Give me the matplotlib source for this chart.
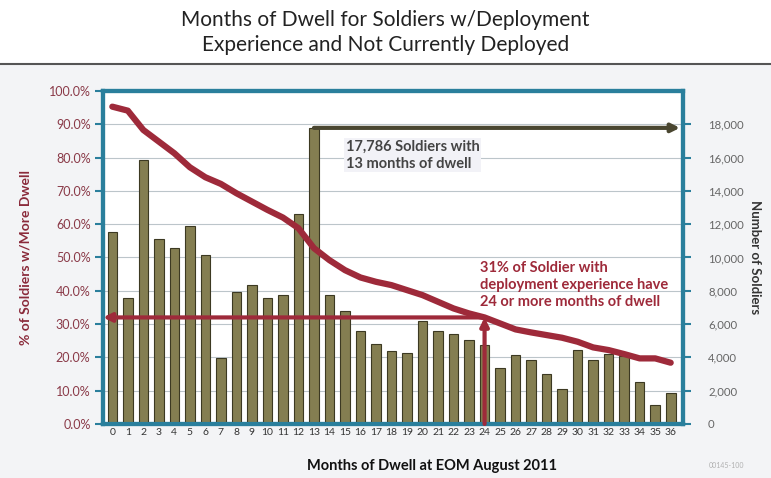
import matplotlib
matplotlib.use('Agg')
import matplotlib.pyplot as plt
from matplotlib.ticker import FuncFormatter

plt.rcParams['font.family'] = ['Lato', 'DejaVu Sans']

months = list(range(37))
soldiers = [11550, 7550, 15850, 11110, 10550, 11910, 10170, 3980, 7950, 8330,
            7550, 7770, 12590, 17786, 7770, 6770, 5570, 4800, 4400, 4280,
            6190, 5590, 5390, 5060, 4730, 3350, 4130, 3860, 2980, 2080,
            4430, 3840, 4190, 4080, 2540, 1140, 1840]
pct_more = [95.3, 94.1, 88.3, 84.8, 81.3, 77.1, 74.1, 72.1, 69.3, 66.8,
            64.3, 62.0, 58.8, 52.8, 49.2, 46.2, 44.0, 42.7, 41.7, 40.2,
            38.7, 36.7, 34.7, 33.2, 32.0, 30.2, 28.4, 27.5, 26.7, 25.9,
            24.7, 23.0, 22.2, 21.0, 19.7, 19.7, 18.4]

teal = '#2a7f9c'
red = '#9e2a3a'
olive = '#847e51'

fig = plt.figure(figsize=(7.71, 4.78), dpi=100)
fig.patch.set_facecolor('#f3f4f6')
# white header band with rule line
fig.patches.append(plt.Rectangle((0, 0.868), 1, 0.132, transform=fig.transFigure,
                                 facecolor='white', edgecolor='none', zorder=0))
fig.add_artist(plt.Line2D([0, 1], [0.866, 0.866], transform=fig.transFigure,
                          color='#555555', lw=1.5))
fig.text(0.5, 0.932, "Months of Dwell for Soldiers w/Deployment\nExperience and Not Currently Deployed",
         ha='center', va='center', fontsize=15, color='#222222', linespacing=1.3)

ax = fig.add_axes([0.1336, 0.113, 0.7524, 0.6966])
ax2 = ax.twinx()

# percent axis (left)
ax.set_ylim(0, 100)
ax.set_yticks(range(0, 101, 10))
ax.yaxis.set_major_formatter(FuncFormatter(lambda v, p: f"{v:.1f}%"))
ax.grid(axis='y', color='#bcc5ca', lw=0.8)
ax.set_axisbelow(True)
ax.set_xlim(-0.6, 36.8)
ax.set_xticks(months)
ax.set_xticklabels([str(m) for m in months], fontsize=7.5, color='#333333')
ax.tick_params(axis='x', length=0, pad=3)
ax.tick_params(axis='y', colors=teal, labelcolor='#8a3a48', labelsize=9, width=1.5,
               length=6, pad=3)
ax.set_ylabel("% of Soldiers w/More Dwell", color='#8a2a3a', fontsize=10,
              fontweight='bold', labelpad=12)
ax.set_xlabel("Months of Dwell at EOM August 2011", fontsize=10.5, fontweight='bold',
              color='#111111')
ax.xaxis.set_label_coords(0.567, -0.105)

# count axis (right)
ax2.set_ylim(0, 20000)
ax2.set_yticks(range(0, 18001, 2000))
ax2.yaxis.set_major_formatter(FuncFormatter(lambda v, p: f"{int(v):,}"))
ax2.tick_params(axis='y', colors=teal, labelcolor='#666666', labelsize=8.2, width=1.5,
                length=6, pad=12)
ax2.set_ylabel("Number of Soldiers", rotation=270, color='#333333', fontsize=9.5,
               fontweight='bold', labelpad=12)

for a in (ax, ax2):
    for s in a.spines.values():
        s.set_color(teal)
        s.set_linewidth(3)

ax2.bar(months, soldiers, width=0.62, color=olive, edgecolor='#3c3922', lw=0.8, zorder=2)

# percent curve drawn on ax2 scale so it sits above bars
scale = 20000 / 100
ax2.plot(months, [p * scale for p in pct_more], color=red, lw=4.5, zorder=4,
         solid_capstyle='round')

# 24-month markers
lvl = pct_more[24] * scale
ax2.annotate('', xy=(-0.6, lvl), xytext=(24, lvl),
             arrowprops=dict(arrowstyle='-|>', color=red, lw=3, mutation_scale=12,
                             shrinkA=0, shrinkB=0), zorder=5)
ax2.annotate('', xy=(24, lvl), xytext=(24, 0),
             arrowprops=dict(arrowstyle='-|>', color=red, lw=3, mutation_scale=12,
                             shrinkA=0, shrinkB=0), zorder=5)
ax2.text(23.7, 8350, "31% of Soldier with\ndeployment experience have\n24 or more months of dwell",
         color='#9e2a3a', fontsize=10.5, fontweight='bold', va='center', ha='left',
         linespacing=1.3, zorder=6)

# 13-month marker
ax2.annotate('', xy=(36.6, soldiers[13]), xytext=(13, soldiers[13]),
             arrowprops=dict(arrowstyle='-|>', color='#4a4630', lw=3, mutation_scale=12,
                             shrinkA=0, shrinkB=0), zorder=5)
ax2.text(15.05, 16150, "17,786 Soldiers with\n13 months of dwell", color='#444444',
         fontsize=10.5, fontweight='bold', va='center', ha='left', linespacing=1.3,
         bbox=dict(facecolor='#f2f2f7', edgecolor='none', pad=1), zorder=6)

fig.text(0.965, 0.02, "00145-100", fontsize=5, color='#b0b0b0', ha='right')

plt.savefig('out.png', dpi=100, facecolor=fig.get_facecolor())
plt.close()
